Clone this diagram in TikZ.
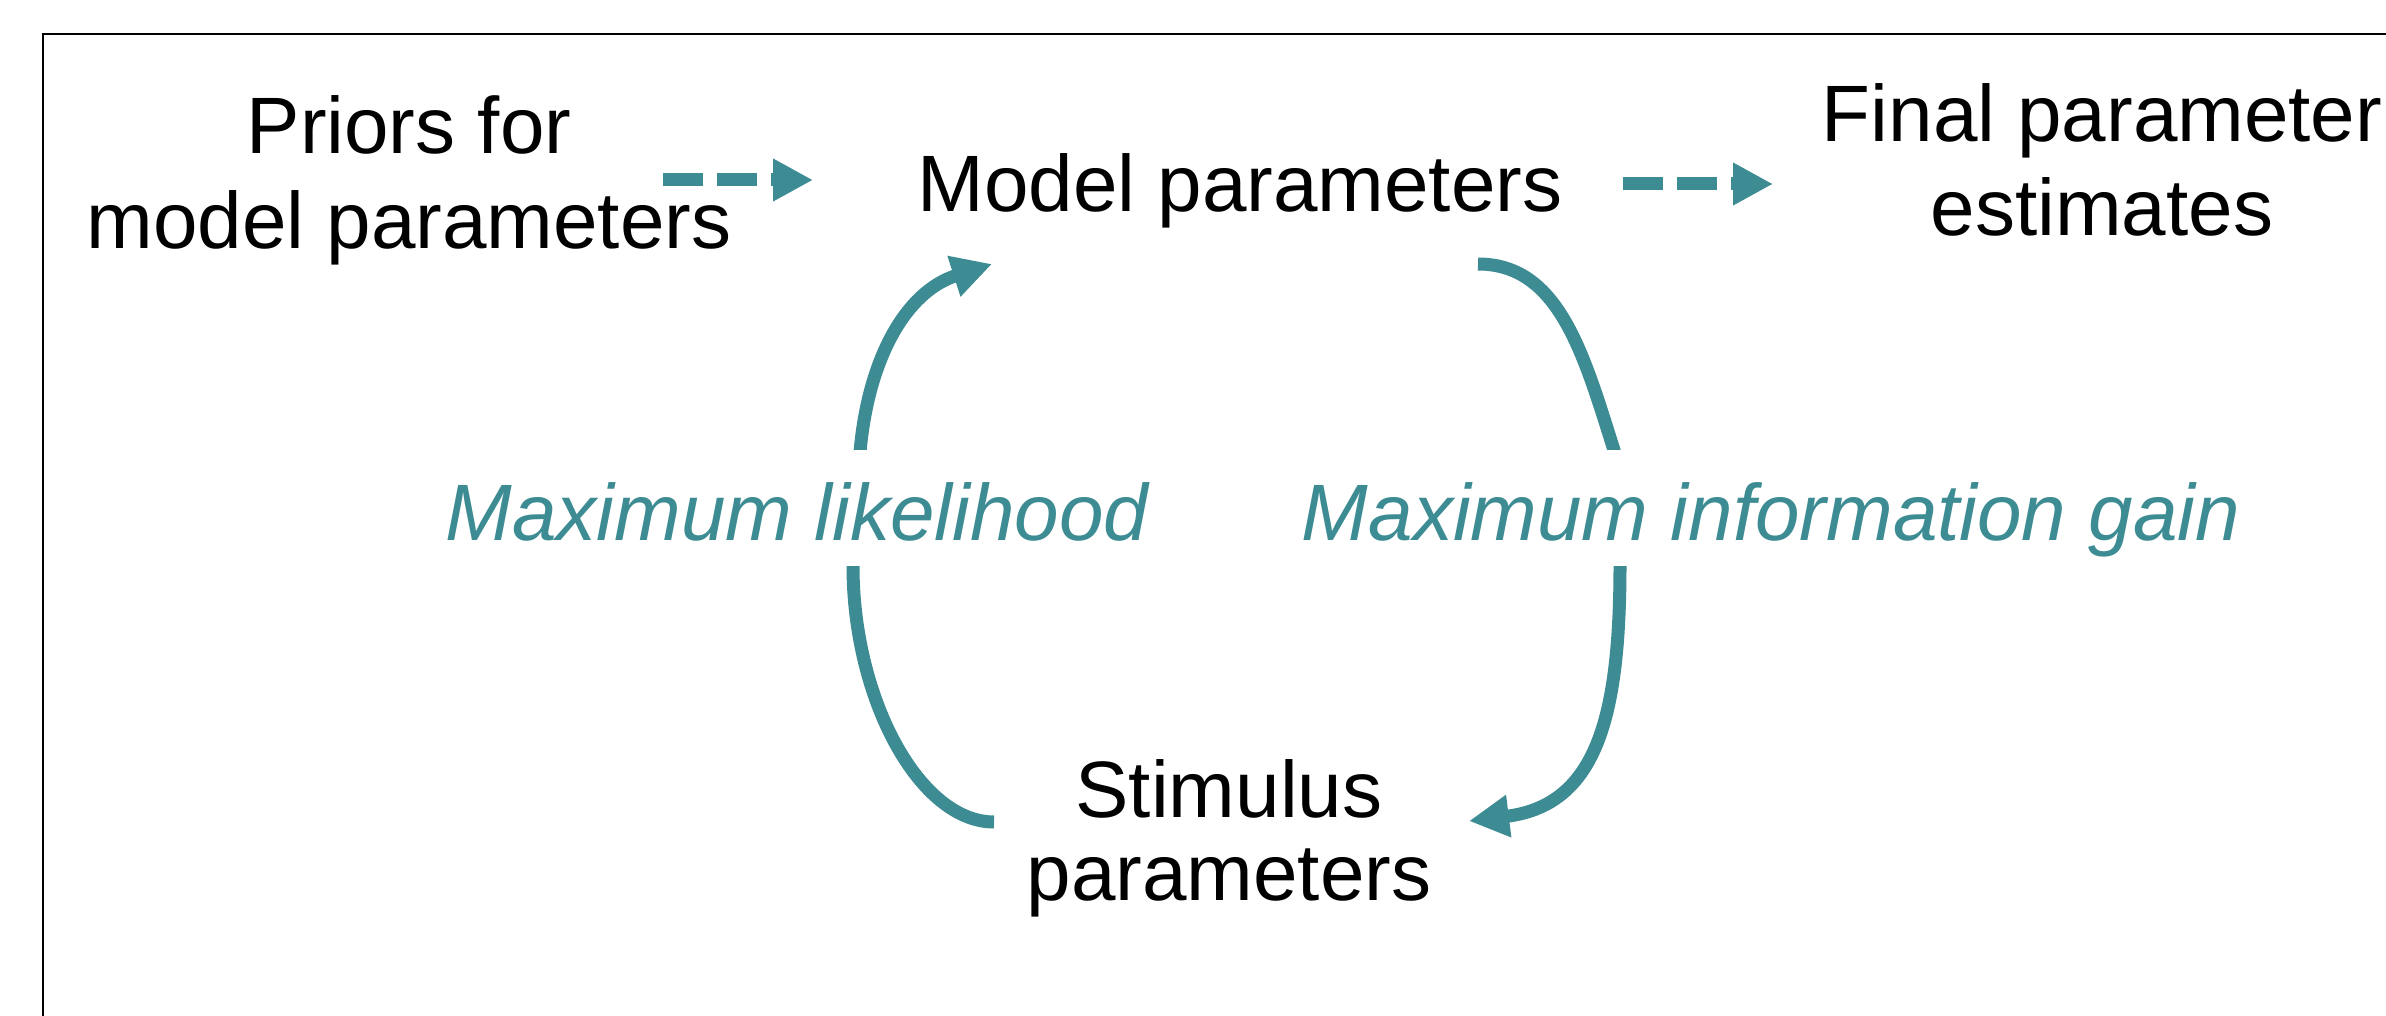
\documentclass[tikz,border=0pt]{standalone}
\usepackage{fontspec}
\setmainfont{Liberation Sans}
\usetikzlibrary{arrows.meta}
\definecolor{mteal}{RGB}{61,140,147}
\begin{document}
\begin{tikzpicture}[x=0.25pt, y=-0.25pt,
  txt/.style={align=center, inner sep=0pt, anchor=base, text=black},
  ital/.style={font=\fontsize{20}{24}\selectfont\itshape, text=mteal, fill=white,
     inner xsep=2pt, inner ysep=0pt, text height=22.5pt, text depth=6.5pt, anchor=base},
  loopline/.style={draw=mteal, line width=3.25pt},
  dasharrow/.style={draw=mteal, line width=3.25pt, dash pattern=on 10pt off 3.5pt,
     -{Triangle[length=10pt,width=10pt]}}]
\useasboundingbox (0,0) rectangle (2386,1016);
\fill[white] (0,0) rectangle (2386,1016);
% frame
\draw[line width=0.6pt, black] (2386,34) -- (43,34) -- (43,1016);

% text nodes (base anchor = baseline of last line)
\node[txt, font=\fontsize{20}{23.75}\selectfont] (priors) at (409,249) {Priors for\\model parameters};
\node[txt, font=\fontsize{20}{24}\selectfont] (model) at (1240,211) {Model parameters};
\node[txt, font=\fontsize{20}{23.5}\selectfont] (final) at (2102,236) {Final parameter\\estimates};
\node[txt, font=\fontsize{20}{20.75}\selectfont] (stim) at (1229,900) {Stimulus\\parameters};

% connector end points
\coordinate (p1) at (663,180);
\coordinate (p2) at (813,180);
\coordinate (f1) at (1623,184);
\coordinate (f2) at (1773,184);
\coordinate (lstart) at (994,822);
\coordinate (ltip) at (992,264);
\coordinate (rstart) at (1478,264);
\coordinate (rtip) at (1469,821);

% dashed arrows
\draw[dasharrow] (p1) -- (p2);
\draw[dasharrow] (f1) -- (f2);

% loop: stimulus -> model (maximum likelihood)
\draw[loopline, -{Triangle[length=10pt,width=10pt]}]
  (lstart) .. controls (920,822) and (853,700) .. (853,566)
  .. controls (853,526) and (856,492) .. (860,452)
  .. controls (868,360) and (905,292) .. (ltip);

% loop: model -> stimulus (maximum information gain)
\draw[loopline, -{Triangle[length=10pt,width=10pt]}]
  (rstart) .. controls (1558,264) and (1583,352) .. (1613,447)
  .. controls (1625,484) and (1620,524) .. (1620,564)
  .. controls (1620,714) and (1598,805) .. (rtip);

% labels on the loops
\node[ital] (ml) at (797,540) {Maximum likelihood};
\node[ital] (mig) at (1771,540) {Maximum information gain};
\end{tikzpicture}
\end{document}
